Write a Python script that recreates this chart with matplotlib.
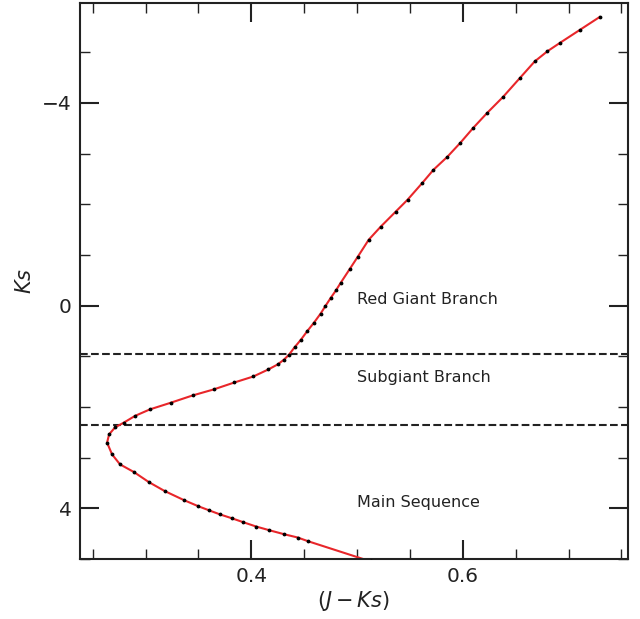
#!/usr/bin/env python
"""
Isochrone in the (J-Ks, Ks) colour-magnitude plane with evolutionary stages
"""

import matplotlib
matplotlib.use("Agg")
import matplotlib.pyplot as plt
from matplotlib.ticker import MultipleLocator

# isochrone points, faint end (bottom) to bright end (top)
jk = [0.513, 0.4536, 0.4439, 0.431, 0.417, 0.4047, 0.3925, 0.382, 0.370,
      0.360, 0.350, 0.336, 0.318, 0.303, 0.289, 0.2758, 0.2683, 0.2636,
      0.2655, 0.2711, 0.2793, 0.290, 0.304, 0.3238, 0.3445, 0.3643, 0.384,
      0.4019, 0.416, 0.425, 0.431, 0.4357, 0.441, 0.447, 0.453, 0.4593,
      0.4655, 0.4700, 0.4750, 0.4800, 0.4845, 0.4930, 0.5007, 0.511, 0.5223,
      0.5364, 0.5477, 0.5618, 0.5722, 0.5853, 0.5976, 0.6098, 0.623, 0.638,
      0.654, 0.668, 0.6800, 0.6916, 0.7104, 0.7293]
ks = [5.05, 4.650, 4.577, 4.512, 4.433, 4.361, 4.276, 4.20, 4.118,
      4.04, 3.961, 3.836, 3.659, 3.482, 3.285, 3.133, 2.936, 2.705,
      2.542, 2.404, 2.311, 2.177, 2.049, 1.917, 1.773, 1.655, 1.517,
      1.399, 1.261, 1.16, 1.064, 0.966, 0.82, 0.670, 0.50, 0.335,
      0.158, 0.01, -0.15, -0.30, -0.45, -0.72, -0.966, -1.300, -1.557,
      -1.852, -2.089, -2.424, -2.680, -2.936, -3.212, -3.507, -3.803, -4.118,
      -4.493, -4.82, -5.02, -5.182, -5.438, -5.695]

# stage boundaries in Ks
boundaries = [0.965, 2.36]
stage_names = ["Red Giant Branch", "Subgiant Branch", "Main Sequence"]
stage_ks = [-0.12, 1.42, 3.88]
LABEL_JK = 0.5

fig = plt.figure(figsize=(6.4, 6.19), dpi=100)
ax = fig.add_axes([0.125, 0.097, 0.856, 0.898])

ax.plot(jk, ks, color="#e8262a", lw=1.5, zorder=2)
ax.plot(jk, ks, "k.", ms=3.5, zorder=3)

for b in boundaries:
    ax.axhline(b, color="#222222", ls="--", lw=1.5, zorder=1)

for name, y in zip(stage_names, stage_ks):
    ax.text(LABEL_JK, y, name, fontsize=11.5, color="#222222",
            ha="left", va="center")

ax.set_xlim(0.238, 0.756)
ax.set_ylim(5.0, -5.97)

ax.xaxis.set_major_locator(MultipleLocator(0.2))
ax.xaxis.set_minor_locator(MultipleLocator(0.05))
ax.yaxis.set_major_locator(MultipleLocator(4))
ax.yaxis.set_minor_locator(MultipleLocator(1))

ax.tick_params(which="both", direction="in", top=True, right=True,
               labelsize=14.5, colors="#222222")
ax.tick_params(which="major", length=14, width=1.5, pad=6)
ax.tick_params(which="minor", length=7, width=1.0)
for spine in ax.spines.values():
    spine.set_linewidth(1.5)
    spine.set_color("#222222")

ax.set_xlabel(r"$(J-Ks)$", fontsize=15, color="#222222", labelpad=2)
ax.set_ylabel(r"$Ks$", fontsize=15, color="#222222", labelpad=5)

fig.savefig("out.png", dpi=100)
